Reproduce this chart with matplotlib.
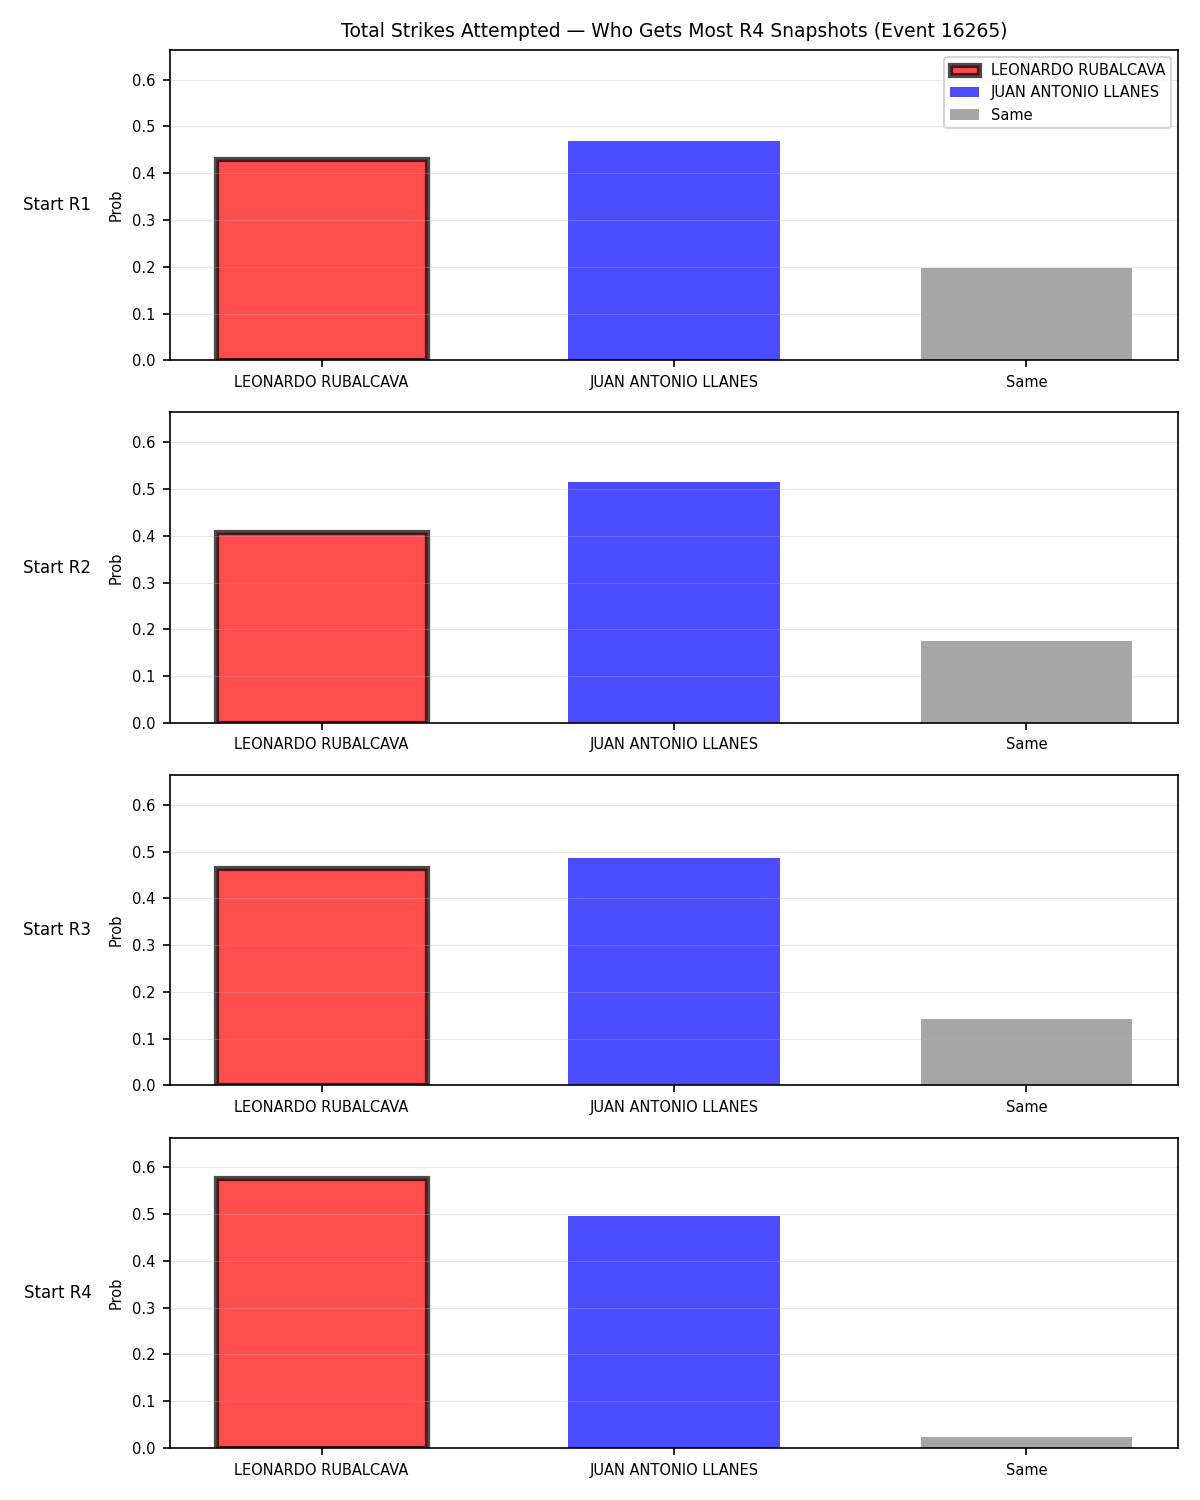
import numpy as np
import matplotlib
matplotlib.use("Agg")
import matplotlib.pyplot as plt

fighters = ["LEONARDO RUBALCAVA", "JUAN ANTONIO LLANES", "Same"]
snapshots = ["Start R1", "Start R2", "Start R3", "Start R4"]

# probability per snapshot: [fighter A, fighter B, same]
probs_r1 = [0.431, 0.468, 0.197]
probs_r2 = [0.408, 0.515, 0.175]
probs_r3 = [0.464, 0.487, 0.143]
probs_r4 = [0.577, 0.496, 0.023]
all_probs = [probs_r1, probs_r2, probs_r3, probs_r4]

colors = ["red", "blue", "gray"]
title = "Total Strikes Attempted \u2014 Who Gets Most R4 Snapshots (Event 16265)"

plt.rcParams["font.size"] = 7

fig, axes = plt.subplots(4, 1, figsize=(8, 10))
fig.subplots_adjust(left=0.1417, right=0.9817, top=0.9667, bottom=0.0347, hspace=0.168)

ymax = max(max(p) for p in all_probs) * 1.15
x = np.arange(len(fighters))

for ax, snap, probs in zip(axes, snapshots, all_probs):
    bars = ax.bar(x, probs, width=0.6, color=colors, alpha=0.7)
    # highlight the most likely fighter at the final snapshot
    bars[0].set_edgecolor("black")
    bars[0].set_linewidth(2.5)
    for b, name in zip(bars, fighters):
        b.set_label(name)
    ax.set_xticks(x)
    ax.set_xticklabels(fighters)
    ax.set_ylim(0, ymax)
    ax.set_ylabel("Prob")
    ax.grid(axis="y", alpha=0.3, linewidth=0.5)
    ax.text(-0.078, 0.5, snap, transform=ax.transAxes, ha="right", va="center",
            fontsize=8)

axes[0].set_title(title, fontsize=9)
axes[0].legend(loc="upper right")

plt.savefig("out.png", dpi=150)
plt.close()
